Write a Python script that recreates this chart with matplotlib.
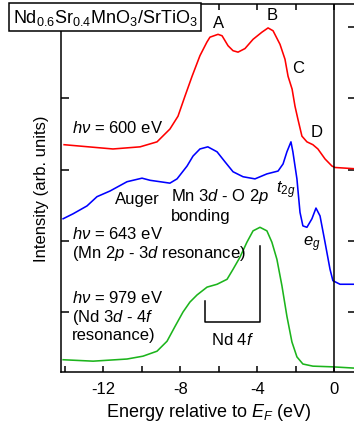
import matplotlib
matplotlib.use("Agg")
import matplotlib.pyplot as plt
from matplotlib.ticker import MultipleLocator, NullFormatter, FixedLocator

plt.rcParams['font.family'] = ['Liberation Sans', 'DejaVu Sans']
plt.rcParams['mathtext.fontset'] = 'custom'
plt.rcParams['mathtext.rm'] = 'Liberation Sans'
plt.rcParams['mathtext.it'] = 'Liberation Sans:italic'
plt.rcParams['mathtext.bf'] = 'Liberation Sans:bold'

# ---- data ----
red_x = [-14.04, -11.50, -10.09, -9.21, -8.54, -8.12, -7.76, -7.39, -6.98, -6.62, -6.46, -6.04,
         -5.83, -5.52, -5.26, -5.00, -4.64, -4.22, -3.76, -3.44, -3.18, -2.82, -2.56, -2.40,
         -2.19, -2.04, -1.89, -1.68, -1.42, -1.11, -0.85, -0.48, -0.12, 0.04, 1.2]
red_y = [3.35, 3.29, 3.32, 3.39, 3.57, 3.75, 4.03, 4.31, 4.60, 4.79, 4.86, 4.90,
         4.88, 4.74, 4.67, 4.65, 4.70, 4.83, 4.93, 4.99, 4.95, 4.76, 4.55, 4.31,
         4.13, 3.89, 3.71, 3.47, 3.39, 3.35, 3.29, 3.15, 3.05, 3.03, 3.01]

blue_x = [-14.09, -13.57, -12.85, -12.33, -11.65, -10.77, -9.99, -9.57, -9.05, -8.54, -8.17,
          -7.65, -7.34, -6.98, -6.57, -6.09, -5.68, -5.26, -4.74, -4.12, -3.50, -2.92, -2.66,
          -2.46, -2.25, -2.15, -1.94, -1.78, -1.63, -1.42, -1.16, -0.95, -0.74, -0.48, -0.22,
          -0.07, 0.30, 1.2]
blue_y = [2.31, 2.38, 2.49, 2.62, 2.70, 2.83, 2.88, 2.85, 2.83, 2.81, 2.87,
          3.05, 3.19, 3.29, 3.32, 3.25, 3.11, 2.97, 2.90, 2.87, 2.94, 2.98, 3.08,
          3.25, 3.39, 3.25, 2.87, 2.40, 2.21, 2.19, 2.31, 2.46, 2.35, 1.98, 1.60,
          1.44, 1.39, 1.39]

green_x = [-14.09, -12.53, -10.77, -9.94, -9.21, -8.69, -8.27, -7.86, -7.50, -7.13, -6.61,
           -6.09, -5.57, -5.26, -4.90, -4.54, -4.22, -3.86, -3.50, -3.24, -2.98, -2.72,
           -2.46, -2.20, -1.94, -1.63, -1.11, -0.07, 1.2]
green_y = [0.33, 0.31, 0.34, 0.38, 0.45, 0.59, 0.80, 1.00, 1.14, 1.24, 1.35,
           1.39, 1.46, 1.60, 1.77, 1.98, 2.14, 2.19, 2.14, 1.98, 1.74, 1.37,
           0.94, 0.58, 0.37, 0.27, 0.24, 0.23, 0.21]

xtick_labels = ['-12', '-8', '-4', '0']
xtick_vals = [-12, -8, -4, 0]

# ---- figure ----
fig = plt.figure(figsize=(3.54, 4.31), dpi=100)
ax = fig.add_axes([61/354, (431-372.7)/431, (356-61)/354, (372.7-5)/431])

lw = 1.15
ax.plot(red_x, red_y, color='#ff0000', lw=lw)
ax.plot(blue_x, blue_y, color='#0000ff', lw=lw)
ax.plot(green_x, green_y, color='#1cb41c', lw=lw)
ax.axvline(0, color='black', lw=1.1)

ax.set_xlim(-14.2, 1.13)
ax.set_ylim(0.162, 5.326)

ax.xaxis.set_major_locator(FixedLocator(xtick_vals))
ax.set_xticklabels(xtick_labels)
ax.xaxis.set_minor_locator(MultipleLocator(2))
ax.yaxis.set_major_locator(MultipleLocator(1))
ax.yaxis.set_major_formatter(NullFormatter())
ax.tick_params(axis='both', which='both', direction='in', top=True, right=True, width=1.1)
ax.tick_params(axis='x', which='both', length=4, labelsize=12, pad=7)
ax.tick_params(axis='y', which='both', length=5.5)
for s in ax.spines.values():
    s.set_linewidth(1.1)

ax.set_xlabel('Energy relative to $E_F$ (eV)', fontsize=13, labelpad=3)
ax.set_ylabel('Intensity (arb. units)', fontsize=12, labelpad=5)

fs = 12
ax.text(-6.0, 5.06, 'A', fontsize=fs, ha='center', va='center')
ax.text(-3.24, 5.18, 'B', fontsize=fs, ha='center', va='center')
ax.text(-1.89, 4.44, 'C', fontsize=fs, ha='center', va='center')
ax.text(-0.9, 3.54, 'D', fontsize=fs, ha='center', va='center')
ax.text(-13.63, 3.60, r'$h\nu$ = 600 eV', fontsize=fs, ha='left', va='center')
ax.text(-10.24, 2.60, 'Auger', fontsize=fs, ha='center', va='center')
ax.text(-8.49, 2.63, 'Mn 3$d$ - O 2$p$', fontsize=fs, ha='left', va='center')
ax.text(-8.49, 2.36, 'bonding', fontsize=fs, ha='left', va='center')
ax.text(-2.5, 2.73, '$t_{2g}$', fontsize=fs, ha='center', va='center')
ax.text(-1.16, 1.96, '$e_g$', fontsize=fs, ha='center', va='center')
ax.text(-13.63, 2.11, r'$h\nu$ = 643 eV', fontsize=fs, ha='left', va='center')
ax.text(-13.63, 1.83, '(Mn 2$p$ - 3$d$ resonance)', fontsize=fs, ha='left', va='center')
ax.text(-13.63, 1.21, r'$h\nu$ = 979 eV', fontsize=fs, ha='left', va='center')
ax.text(-13.63, 0.94, '(Nd 3$d$ - 4$f$', fontsize=fs, ha='left', va='center')
ax.text(-13.63, 0.69, 'resonance)', fontsize=fs, ha='left', va='center')
ax.text(-5.29, 0.62, 'Nd 4$f$', fontsize=fs, ha='center', va='center')

# Nd 4f bracket
ax.plot([-6.70, -6.70, -3.86, -3.86], [1.16, 0.86, 0.86, 1.93], color='black', lw=1.1)

fig.text(105/354, 1-18/431, 'Nd$_{0.6}$Sr$_{0.4}$MnO$_3$/SrTiO$_3$', fontsize=13,
         ha='center', va='center',
         bbox=dict(boxstyle='square,pad=0.2', fc='white', ec='black', lw=1.1))

fig.savefig('out.png', dpi=100)
